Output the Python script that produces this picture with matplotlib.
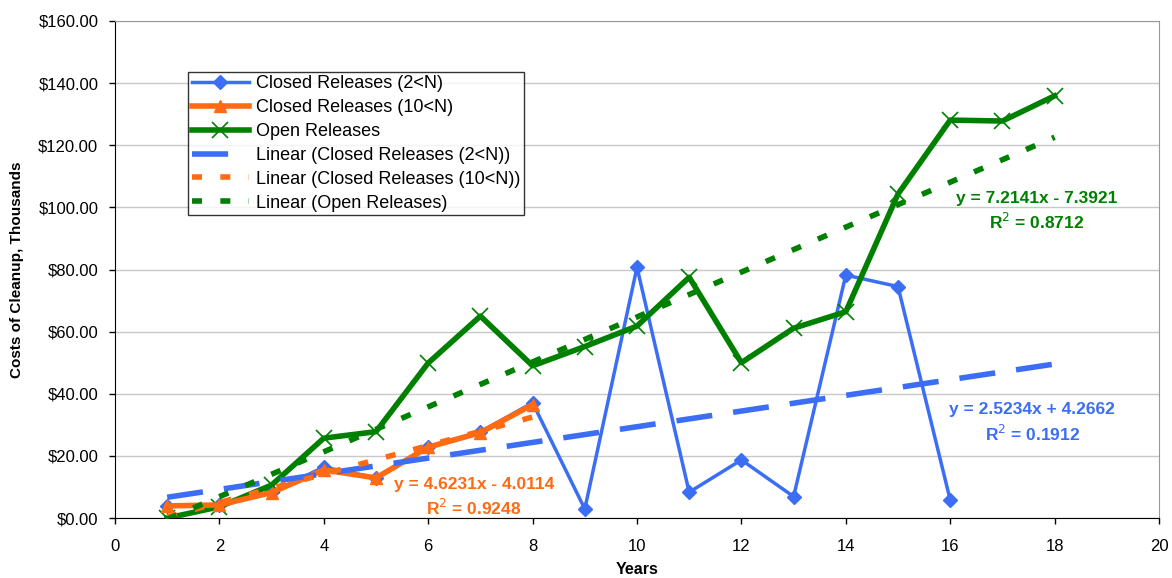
import matplotlib
matplotlib.use("Agg")
import matplotlib.pyplot as plt
import numpy as np

plt.rcParams['font.family'] = ['Liberation Sans', 'DejaVu Sans']

# data (thousands of $)
years_closed2 = np.arange(1, 17)
closed2 = [4.0, 4.2, 8.3, 16.4, 12.9, 23.0, 27.7, 37.1, 2.9, 80.7, 8.3, 18.7, 6.9, 78.2, 74.5, 5.8]
years_closed10 = np.arange(1, 9)
closed10 = [3.9, 4.2, 8.2, 15.5, 12.9, 22.8, 27.5, 36.5]
years_open = np.arange(1, 19)
open_rel = [0.0, 3.6, 10.6, 25.7, 27.8, 49.9, 65.0, 49.0, 55.2, 61.8, 77.5, 50.0, 61.1, 66.4, 104.3, 128.1, 127.8, 135.9]

labels = ["Closed Releases (2<N)", "Closed Releases (10<N)", "Open Releases"]
eq_texts = [("y = 2.5234x + 4.2662", "0.1912"),
            ("y = 4.6231x - 4.0114", "0.9248"),
            ("y = 7.2141x - 7.3921", "0.8712")]

BLUE = "#3b6ef5"
ORANGE = "#ff6a13"
GREEN = "#008000"

fig = plt.figure(figsize=(11.72, 5.78), dpi=100)
ax = fig.add_axes([115 / 1172, 60 / 578, 1044 / 1172, 497 / 578])

ax.plot(years_closed2, closed2, color=BLUE, lw=2.5, marker="D", ms=7,
        label=labels[0], zorder=3)
ax.plot(years_closed10, closed10, color=ORANGE, lw=4, marker="^", ms=9,
        label=labels[1], zorder=4)
ax.plot(years_open, open_rel, color=GREEN, lw=4, marker="x", ms=12, mew=1.2,
        label=labels[2], zorder=3)

# linear trendlines (blue and green extended two periods forward)
fit_b = np.polyfit(years_closed2, closed2, 1)
xb = np.array([1, 18])
ax.plot(xb, np.polyval(fit_b, xb), color=BLUE, lw=4, dashes=(6.5, 3.8),
        label="Linear (Closed Releases (2<N))", zorder=5)
fit_o = np.polyfit(years_closed10, closed10, 1)
xo = np.array([1, 8])
ax.plot(xo, np.polyval(fit_o, xo), color=ORANGE, lw=4, dashes=(1.8, 3.3),
        label="Linear (Closed Releases (10<N))", zorder=5)
fit_g = np.polyfit(years_open, open_rel, 1)
xg = np.array([1, 18])
ax.plot(xg, np.polyval(fit_g, xg), color=GREEN, lw=4, dashes=(1.8, 3.3),
        label="Linear (Open Releases)", zorder=5)

ax.set_xlim(0, 20)
ax.set_ylim(0, 160)
ax.set_xticks(range(0, 21, 2))
ax.set_yticks(range(0, 161, 20))
ax.set_yticklabels([f"${v:.2f}" for v in range(0, 161, 20)])
ax.tick_params(axis="both", labelsize=12, direction="out", length=4, width=1)
ax.tick_params(axis="x", pad=11)
ax.tick_params(axis="y", pad=8)
ax.grid(axis="y", color="#c8c8c8", lw=1)
ax.set_axisbelow(True)
for s in ["top", "right"]:
    ax.spines[s].set_color("#999999")
ax.spines["left"].set_color("black")
ax.spines["bottom"].set_color("black")

ax.set_xlabel("Years", fontsize=11.5, fontweight="bold", labelpad=6)
ax.set_ylabel("Costs of Cleanup, Thousands", fontsize=11, fontweight="bold", labelpad=10)

leg = ax.legend(loc="upper left", bbox_to_anchor=(0.07, 0.898), fontsize=13,
                frameon=True, fancybox=False, edgecolor="black",
                handlelength=3.15, borderpad=0.2, labelspacing=0.38,
                handletextpad=0.4, borderaxespad=0)
leg.get_frame().set_linewidth(1)

eq_pos = [(17.57, 34.8, BLUE), (6.88, 10.9, ORANGE), (17.66, 103.0, GREEN)]
for (eq, r2), (x, y, c) in zip(eq_texts, eq_pos):
    ax.text(x, y, eq, color=c, fontsize=12.5, fontweight="bold",
            ha="center", va="center", zorder=6)
    ax.text(x, y - 7.7, r"R$^2$ = " + r2, color=c, fontsize=12.5,
            fontweight="bold", ha="center", va="center", zorder=6)

fig.savefig("out.png", dpi=100)
